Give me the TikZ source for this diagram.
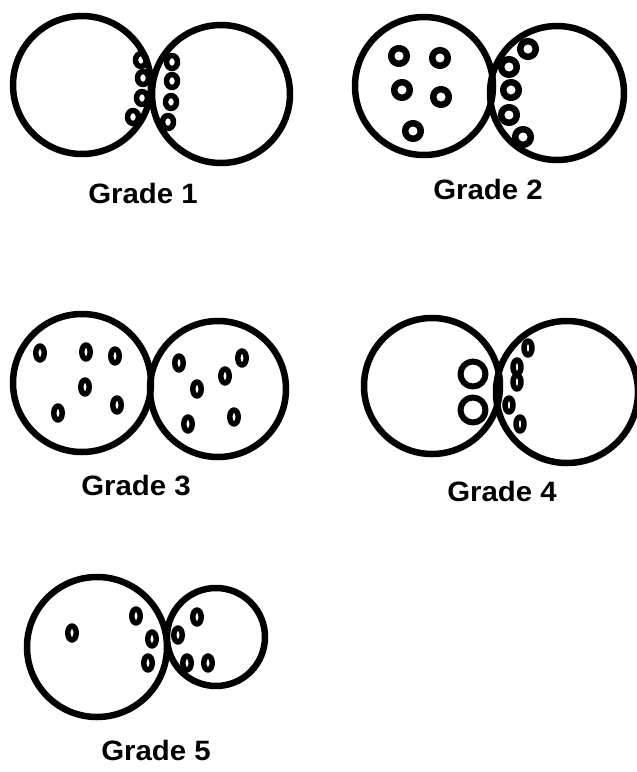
\documentclass[tikz,border=0pt]{standalone}
\usepackage{fontspec}
\setmainfont{Liberation Sans}
\usetikzlibrary{positioning}
\newcommand{\gradelabel}[1]{\scalebox{1.05}[1]{#1}}
\tikzset{
  every picture/.style={line cap=round, line join=round},
  % Zellen und Einschluesse
  cell/.style={line width=6.5pt},
  ring/.style={line width=#1},
  ring/.default=5.5pt,
  glabel/.style={font=\fontsize{28}{32}\selectfont\bfseries, anchor=base, inner sep=0pt},
}
\begin{document}
\begin{tikzpicture}[x=1pt,y=-1pt]
  \useasboundingbox (0,0) rectangle (637,772);
  % Grade 1
  \draw[cell] (82,85) circle (69);
  \draw[cell] (221,94) circle (69);
  \foreach \x/\y in {141/60,143/78,142/98,133/117,172/62,172/81,171/102,168/122}
    \draw[ring] (\x,\y) ellipse (5.5 and 6.5);
  \node[glabel] (g1) at (143,203) {\gradelabel{Grade 1}};
  % Grade 2
  \draw[cell] (424,86) circle (69);
  \draw[cell] (557,93) circle (67);
  \foreach \x/\y in {399/56,440/58,402/90,441/97,413/131,528/49,509/67,511/90,509/115,523/137}
    \draw[ring=6.5pt] (\x,\y) circle (7.8);
  \node[glabel] (g2) at (488,199) {\gradelabel{Grade 2}};
  % Grade 3
  \draw[cell] (82,383) circle (69);
  \draw[cell] (218,389) circle (68);
  \foreach \x/\y in {40/353,86/352,115/356,85/387,58/413,117/405,179/363,242/358,225/376,197/389,188/424,234/417}
    \draw[ring] (\x,\y) ellipse (4.2 and 7);
  \node[glabel] (g3) at (136,495) {\gradelabel{Grade 3}};
  % Grade 4
  \draw[cell] (432,386) circle (68);
  \draw[cell] (567,392) circle (71);
  \foreach \y in {374,410}
    \draw[ring=6pt] (473,\y) circle (12.5);
  \foreach \x/\y in {528/348,517/367,517/382,509/405,520/424}
    \draw[ring=5.5pt] (\x,\y) ellipse (4 and 7);
  \node[glabel] (g4) at (502,501) {\gradelabel{Grade 4}};
  % Grade 5
  \draw[cell] (97,647) circle (70);
  \draw[cell] (216,637) circle (49);
  \foreach \x/\y in {72/633,136/616,152/639,148/663,197/617,178/635,187/663,208/663}
    \draw[ring] (\x,\y) ellipse (4.2 and 7);
  \node[glabel] (g5) at (156,760) {\gradelabel{Grade 5}};
\end{tikzpicture}
\end{document}
